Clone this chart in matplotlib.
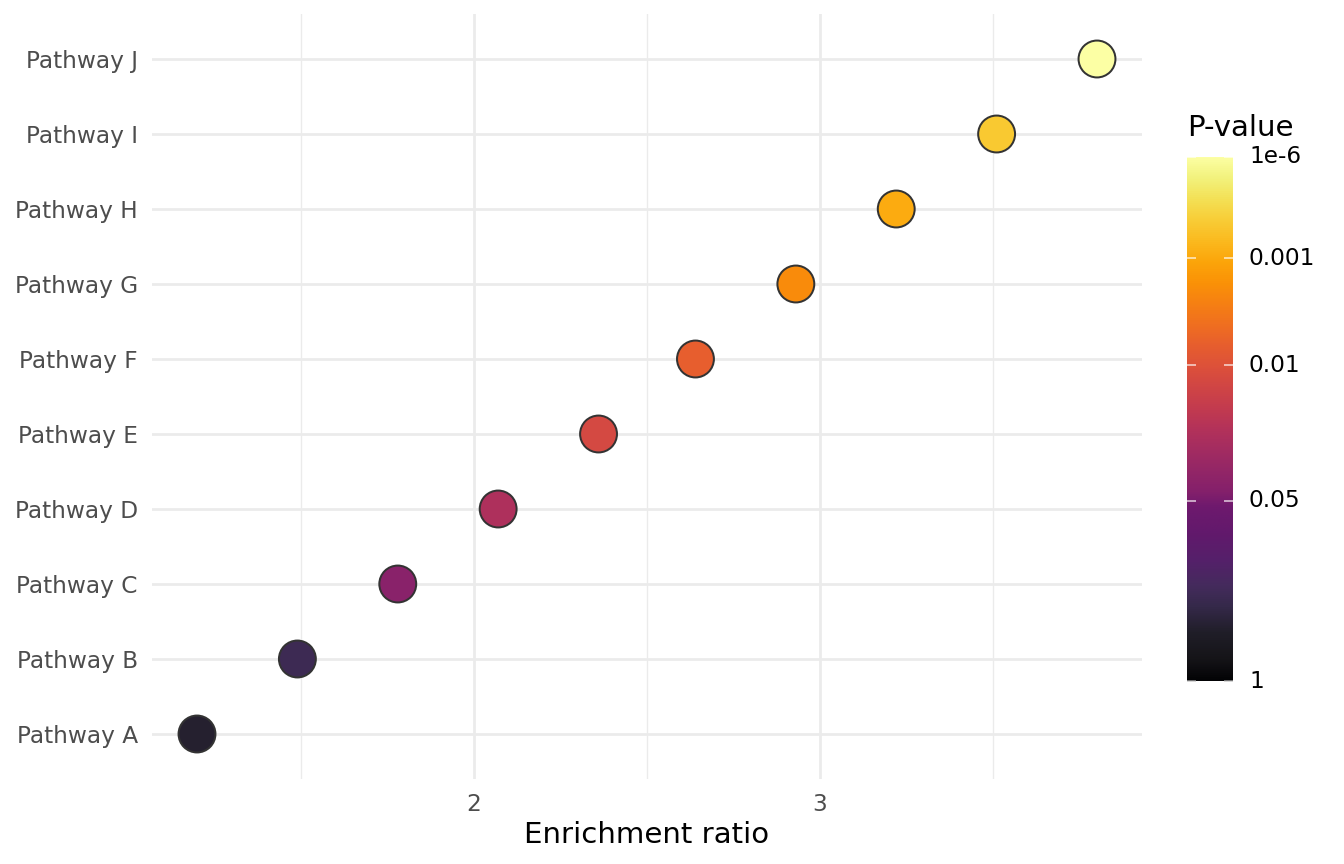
import numpy as np
import matplotlib
matplotlib.use("Agg")
import matplotlib.pyplot as plt
from matplotlib.colors import LinearSegmentedColormap, to_hex

# ---------------- data ----------------
pathways = ["Pathway A", "Pathway B", "Pathway C", "Pathway D", "Pathway E",
            "Pathway F", "Pathway G", "Pathway H", "Pathway I", "Pathway J"]
enrichment = [1.2, 1.49, 1.78, 2.07, 2.36, 2.64, 2.93, 3.22, 3.51, 3.8]
pvalues = [0.40, 0.24, 0.042, 0.023, 0.012, 0.0065, 0.002, 0.0009, 1e-4, 1e-6]

cbar_breaks = [1, 0.05, 0.01, 0.001, 1e-6]
cbar_labels = ["1", "0.05", "0.01", "0.001", "1e-6"]
cbar_pos = [0.0, 0.344, 0.602, 0.806, 1.0]   # relative position of each break along the bar

# ---------------- colour scale ----------------
inf = plt.get_cmap("inferno")
low_anchors = [(0.0, "#030305"), (0.04, "#151418"), (0.091, "#201e28"),
               (0.141, "#35294a"), (0.179, "#442b5c"), (0.23, "#55206a"),
               (0.281, "#62196c"), (0.331, "#6e196e")]
high_t = np.linspace(0.36, 1.0, 17)
anchors = low_anchors + [(float(t), to_hex(inf(t))) for t in high_t]
cmap = LinearSegmentedColormap.from_list("pv", anchors)

u_breaks = -np.log10(np.array(cbar_breaks, dtype=float))


def p_to_t(p):
    return np.interp(-np.log10(np.asarray(p, dtype=float)), u_breaks, cbar_pos)


colors = cmap(p_to_t(pvalues))

# ---------------- figure ----------------
W, H, DPI = 1344, 864, 144
fig = plt.figure(figsize=(W / DPI, H / DPI), dpi=DPI, facecolor="white")

px0, px1, py0, py1 = 152, 1142, 14, 779
ax = fig.add_axes([px0 / W, 1 - py1 / H, (px1 - px0) / W, (py1 - py0) / H])
ax.set_facecolor("white")

ypos = np.arange(1, len(pathways) + 1)
xmin, xmax = min(enrichment), max(enrichment)
xr = xmax - xmin
ax.set_xlim(xmin - 0.05 * xr, xmax + 0.05 * xr)
ax.set_ylim(0.4, len(pathways) + 0.6)

# grid
grid_col = "#EBEBEB"
for xv in [2, 3]:
    ax.axvline(xv, color=grid_col, lw=1.36, zorder=0)
for xv in [1.5, 2.5, 3.5]:
    ax.axvline(xv, color=grid_col, lw=0.68, zorder=0)
for yv in ypos:
    ax.axhline(yv, color=grid_col, lw=1.36, zorder=0)

ax.scatter(enrichment, ypos, s=340, c=colors, edgecolors="#333333",
           linewidths=1.0, zorder=3)

ax.set_xticks([2, 3])
ax.set_xticklabels(["2", "3"])
ax.set_yticks(ypos)
ax.set_yticklabels(pathways)
ax.tick_params(axis="both", length=0, labelsize=11.6, labelcolor="#4D4D4D")
ax.tick_params(axis="x", pad=7.2)
ax.tick_params(axis="y", pad=7)
for sp in ax.spines.values():
    sp.set_visible(False)

fig.text((px0 + px1) / 2 / W, 1 - 843 / H, "Enrichment ratio", ha="center",
         va="baseline", fontsize=14.6, color="black")

# ---------------- colour bar ----------------
cb_x0, cb_x1, cb_y0, cb_y1 = 1187, 1233, 156.8, 681
cax = fig.add_axes([cb_x0 / W, 1 - cb_y1 / H, (cb_x1 - cb_x0) / W, (cb_y1 - cb_y0) / H])
grad = np.linspace(0, 1, 512).reshape(-1, 1)
cax.imshow(grad, cmap=cmap, aspect="auto", origin="lower",
           extent=[0, 1, 0, 1], interpolation="bilinear")
cax.set_xlim(0, 1)
cax.set_ylim(0, 1)
cax.set_xticks([])
cax.set_yticks([])
for sp in cax.spines.values():
    sp.set_visible(False)
for t in cbar_pos:
    tc = "#BBBBBB" if t == 0.0 else "white"
    cax.plot([0, 0.2], [t, t], color=tc, lw=0.8, alpha=0.75, solid_capstyle="butt",
             clip_on=False)
    cax.plot([0.8, 1.0], [t, t], color=tc, lw=0.8, alpha=0.75, solid_capstyle="butt",
             clip_on=False)
for t, lab in zip(cbar_pos, cbar_labels):
    fig.text(1249 / W, 1 - (cb_y1 - t * (cb_y1 - cb_y0)) / H, lab, ha="left",
             va="center", fontsize=11.6, color="black")

fig.text(cb_x0 / W, 1 - 136 / H, "P-value", ha="left", va="baseline",
         fontsize=14.6, color="black")

fig.savefig("out.png", dpi=DPI, facecolor="white")
